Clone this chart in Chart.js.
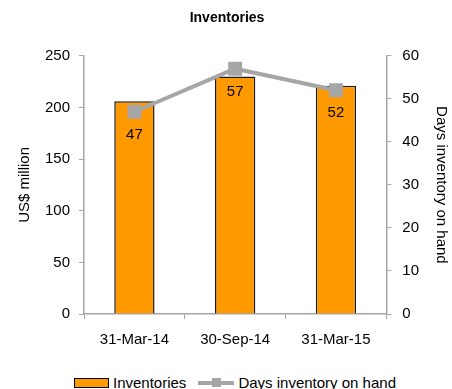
<!DOCTYPE html>
<html lang="en">
<head>
  <meta charset="UTF-8">
  <title>Inventories</title>
  <style>
    body { margin: 0; background: #fff; font-family: "Liberation Sans", Arial, sans-serif; }
    .wrap { position: relative; width: 452px; height: 389px; overflow: hidden; }
    #invChart { position: absolute; left: 0; top: 0; }
    .legend { position: absolute; top: 374px; left: 74px; font-size: 15px; color: #000; display: flex; align-items: center; white-space: nowrap; }
    .legend .box { width: 33px; height: 8px; background: #FF9900; border: 1.5px solid #000; margin-right: 4px; }
    .legend .ln { position: relative; width: 36px; height: 4px; background: #A6A6A6; margin: 0 4px 0 12px; }
    .legend .ln span { position: absolute; left: 14px; top: -3px; width: 9px; height: 9px; background: #A6A6A6; }
  </style>
</head>
<body>
<div class="wrap">
  <canvas id="invChart" width="452" height="370"></canvas>
  <div class="legend">
    <div class="box"></div>Inventories
    <div class="ln"><span></span></div>Days inventory on hand
  </div>
</div>

<script src="https://cdn.jsdelivr.net/npm/chart.js"></script>
<script>
  const periods = ['31-Mar-14', '30-Sep-14', '31-Mar-15'];
  const inventories = [206, 230, 221];
  const daysOnHand = [47, 57, 52];

  const fontFamily = '"Liberation Sans", Arial, sans-serif';
  const axisGray = '#A6A6A6';

  // writes the days value under each marker
  const pointLabels = {
    id: 'pointLabels',
    afterDatasetsDraw(chart) {
      const ctx = chart.ctx;
      const meta = chart.getDatasetMeta(1);
      ctx.save();
      ctx.font = '15px ' + fontFamily;
      ctx.fillStyle = '#000';
      ctx.textAlign = 'center';
      ctx.textBaseline = 'middle';
      meta.data.forEach((pt, i) => {
        ctx.fillText(daysOnHand[i], pt.x, pt.y + 23);
      });
      ctx.restore();
    }
  };

  new Chart(document.getElementById('invChart'), {
    data: {
      labels: periods,
      datasets: [{
        type: 'bar',
        label: 'Inventories',
        data: inventories,
        backgroundColor: '#FF9900',
        borderColor: '#1a1a1a',
        borderWidth: 1.5,
        barPercentage: 0.4,
        categoryPercentage: 1,
        yAxisID: 'y',
        order: 2
      }, {
        type: 'line',
        label: 'Days inventory on hand',
        data: daysOnHand,
        borderColor: '#A6A6A6',
        backgroundColor: '#A6A6A6',
        borderWidth: 4,
        pointStyle: 'rect',
        pointRadius: 7,
        pointHoverRadius: 7,
        tension: 0,
        yAxisID: 'y1',
        order: 1
      }]
    },
    options: {
      responsive: false,
      animation: false,
      layout: { padding: { left: 4, right: 2, top: 8, bottom: 9 } },
      plugins: {
        legend: { display: false },
        tooltip: { enabled: false },
        title: {
          display: true,
          text: 'Inventories',
          color: '#000',
          font: { family: fontFamily, size: 14, weight: 'bold' },
          padding: { top: 2, bottom: 29 }
        }
      },
      scales: {
        x: {
          grid: { display: true, drawOnChartArea: false, drawTicks: true, tickLength: 5, color: axisGray },
          border: { color: axisGray, width: 1.5 },
          ticks: { color: '#000', font: { family: fontFamily, size: 15 }, padding: 12 }
        },
        y: {
          position: 'left',
          min: 0, max: 250,
          ticks: { stepSize: 50, color: '#000', font: { family: fontFamily, size: 15 }, padding: 9 },
          grid: { display: true, drawOnChartArea: false, drawTicks: true, tickLength: 5, color: axisGray },
          border: { color: axisGray, width: 1.5 },
          title: { display: true, text: 'US$ million', color: '#000', font: { family: fontFamily, size: 15 }, padding: { top: 12, bottom: 2 } }
        },
        y1: {
          position: 'right',
          min: 0, max: 60,
          ticks: { stepSize: 10, color: '#000', font: { family: fontFamily, size: 15 }, padding: 11 },
          grid: { display: true, drawOnChartArea: false, drawTicks: true, tickLength: 5, color: axisGray },
          border: { color: axisGray, width: 1.5 },
          title: { display: true, text: 'Days inventory on hand', color: '#000', font: { family: fontFamily, size: 15 }, padding: { top: 0, bottom: 2 } }
        }
      }
    },
    plugins: [pointLabels]
  });
</script>
</body>
</html>
